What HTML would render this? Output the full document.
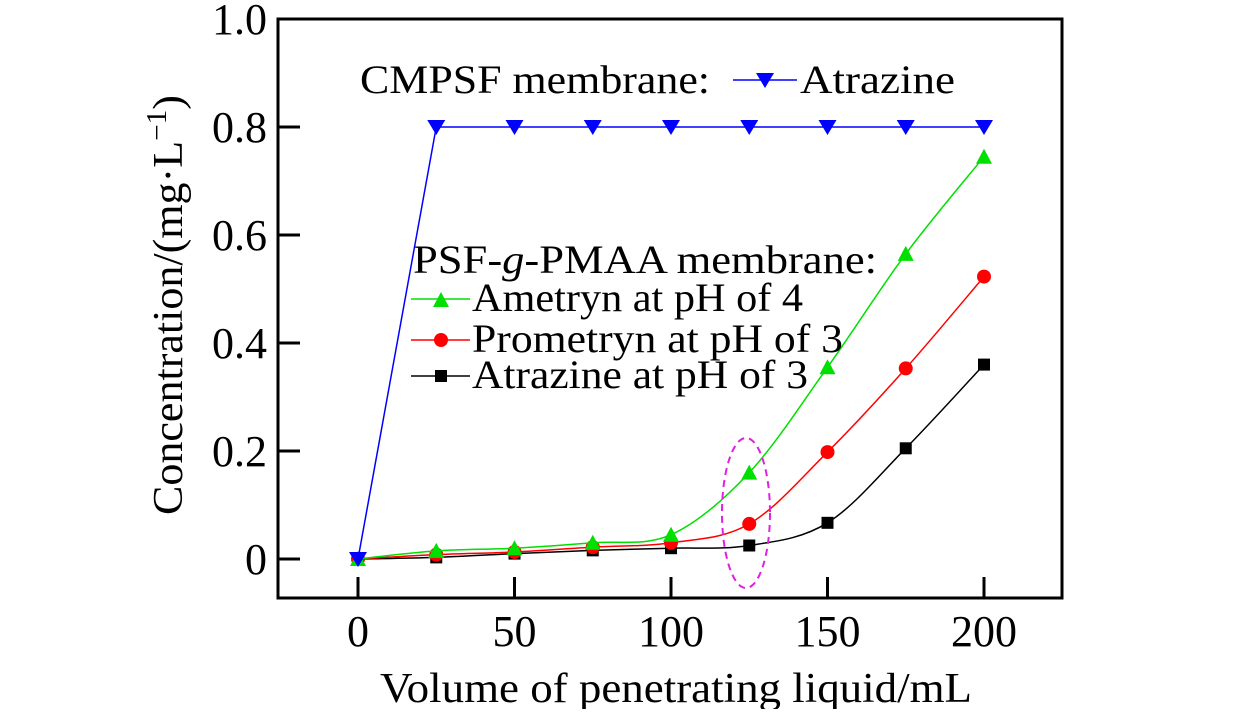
<!DOCTYPE html>
<html><head><meta charset="utf-8"><style>
body{margin:0;background:#fff;}
svg text{font-family:"Liberation Serif",serif;fill:#000;}
</style></head><body>
<svg id="chart" width="1260" height="709" xmlns="http://www.w3.org/2000/svg">
<rect x="278" y="19" width="784" height="579" fill="none" stroke="#000" stroke-width="3"/>
<g id="axes"></g>
<g id="series"></g>
<ellipse cx="746" cy="513" rx="24" ry="75" fill="none" stroke="#e020e0" stroke-width="2" stroke-dasharray="7,5"/>
<text x="380" y="702" font-size="42" textLength="592" lengthAdjust="spacingAndGlyphs">Volume of penetrating liquid/mL</text>
<text transform="translate(182,515) rotate(-90)" font-size="42" textLength="420" lengthAdjust="spacingAndGlyphs">Concentration/(mg·L<tspan font-size="28" dy="-16">−1</tspan><tspan dy="16">)</tspan></text>
<g>
<text x="360" y="93" font-size="40" textLength="350" lengthAdjust="spacingAndGlyphs">CMPSF membrane:</text>
<line x1="733" y1="80" x2="797" y2="80" stroke="#0000ff" stroke-width="1.5"/>
<polygon points="756,73 774,73 765,88" fill="#0000ff"/>
<text x="800" y="93" font-size="40" textLength="155" lengthAdjust="spacingAndGlyphs">Atrazine</text>
</g>
<g>
<text x="413" y="273" font-size="40" textLength="464" lengthAdjust="spacingAndGlyphs">PSF-<tspan font-style="italic">g</tspan>-PMAA membrane:</text>
<line x1="411" y1="299" x2="470" y2="299" stroke="#00e000" stroke-width="1.5"/>
<polygon points="433,307 449,307 441,292" fill="#00e000"/>
<text x="472" y="311" font-size="40" textLength="331" lengthAdjust="spacingAndGlyphs">Ametryn at pH of 4</text>
<line x1="411" y1="340" x2="470" y2="340" stroke="#ff0000" stroke-width="1.5"/>
<circle cx="441" cy="340" r="7" fill="#ff0000"/>
<text x="472" y="352" font-size="40" textLength="371" lengthAdjust="spacingAndGlyphs">Prometryn at pH of 3</text>
<line x1="411" y1="376" x2="470" y2="376" stroke="#000" stroke-width="1.5"/>
<rect x="435" y="370" width="12" height="12" fill="#000"/>
<text x="472" y="388" font-size="40" textLength="336" lengthAdjust="spacingAndGlyphs">Atrazine at pH of 3</text>
</g>
</svg>
<script>
const xVals=[0,25,50,75,100,125,150,175,200];
const cmpsfAtrazine=[0,0.8,0.8,0.8,0.8,0.8,0.8,0.8,0.8];
const ametryn=[0,0.015,0.02,0.03,0.045,0.16,0.355,0.565,0.745];
const prometryn=[0,0.008,0.013,0.022,0.03,0.065,0.198,0.353,0.523];
const atrazinePH3=[0,0.003,0.01,0.016,0.02,0.025,0.067,0.205,0.36];
const xTicks=[0,50,100,150,200];
const yTicks=[0,0.2,0.4,0.6,0.8,1.0];
const yTickLabels=["0","0.2","0.4","0.6","0.8","1.0"];
const NS="http://www.w3.org/2000/svg";
function sx(v){return 358+v*(984-358)/200;}
function sy(v){return 559-v*(559-19)/1.0;}
function mk(tag,attrs,parent){const e=document.createElementNS(NS,tag);for(const k in attrs)e.setAttribute(k,attrs[k]);parent.appendChild(e);return e;}
const axes=document.getElementById('axes'),ser=document.getElementById('series');
xTicks.forEach(t=>{
 const l=mk('line',{x1:sx(t),x2:sx(t),y1:598,y2:577,stroke:'#000','stroke-width':3},axes);
 
 
 const tx=mk('text',{x:sx(t),y:646,'font-size':44,'text-anchor':'middle'},axes);tx.textContent=t;
 
 
});
yTicks.forEach((t,i)=>{
 const l=mk('line',{x1:278,x2:300,y1:sy(t),y2:sy(t),stroke:'#000','stroke-width':3},axes);
 
 
 const tx=mk('text',{x:267,y:sy(t)+15,'font-size':44,'text-anchor':'end'},axes);tx.textContent=yTickLabels[i];
 
 
});
function smooth(pts){let d=`M${pts[0][0]},${pts[0][1]}`;for(let i=0;i<pts.length-1;i++){const p0=pts[i-1]||pts[i],p1=pts[i],p2=pts[i+1],p3=pts[i+2]||p2;
 d+=` C${p1[0]+(p2[0]-p0[0])/6},${p1[1]+(p2[1]-p0[1])/6} ${p2[0]-(p3[0]-p1[0])/6},${p2[1]-(p3[1]-p1[1])/6} ${p2[0]},${p2[1]}`;}return d;}
function draw(vals,color,shape,name,curve){
 const g=mk('g',{},ser);
 
 
 const pts=xVals.map((x,i)=>[sx(x),sy(vals[i])]);
 const d=curve?smooth(pts):'M'+pts.map(p=>p.join(',')).join(' L');
 mk('path',{d:d,fill:'none',stroke:color,'stroke-width':1.5},g);
 pts.forEach(([x,y])=>{let m;
  if(shape==='tri')m=mk('polygon',{points:`${x-8},${y+7} ${x+8},${y+7} ${x},${y-8}`,fill:color},g);
  else if(shape==='dtri')m=mk('polygon',{points:`${x-9},${y-7} ${x+9},${y-7} ${x},${y+8}`,fill:color},g);
  else if(shape==='circ')m=mk('circle',{cx:x,cy:y,r:7,fill:color},g);
  else m=mk('rect',{x:x-6,y:y-6,width:12,height:12,fill:color},g);
  
  
 });
}
draw(atrazinePH3,'#000','sq','series-atrazine-ph3',true);
draw(prometryn,'#ff0000','circ','series-prometryn-ph3',true);
draw(ametryn,'#00e000','tri','series-ametryn-ph4',true);
draw(cmpsfAtrazine,'#0000ff','dtri','series-cmpsf-atrazine',false);
</script>
</body></html>
